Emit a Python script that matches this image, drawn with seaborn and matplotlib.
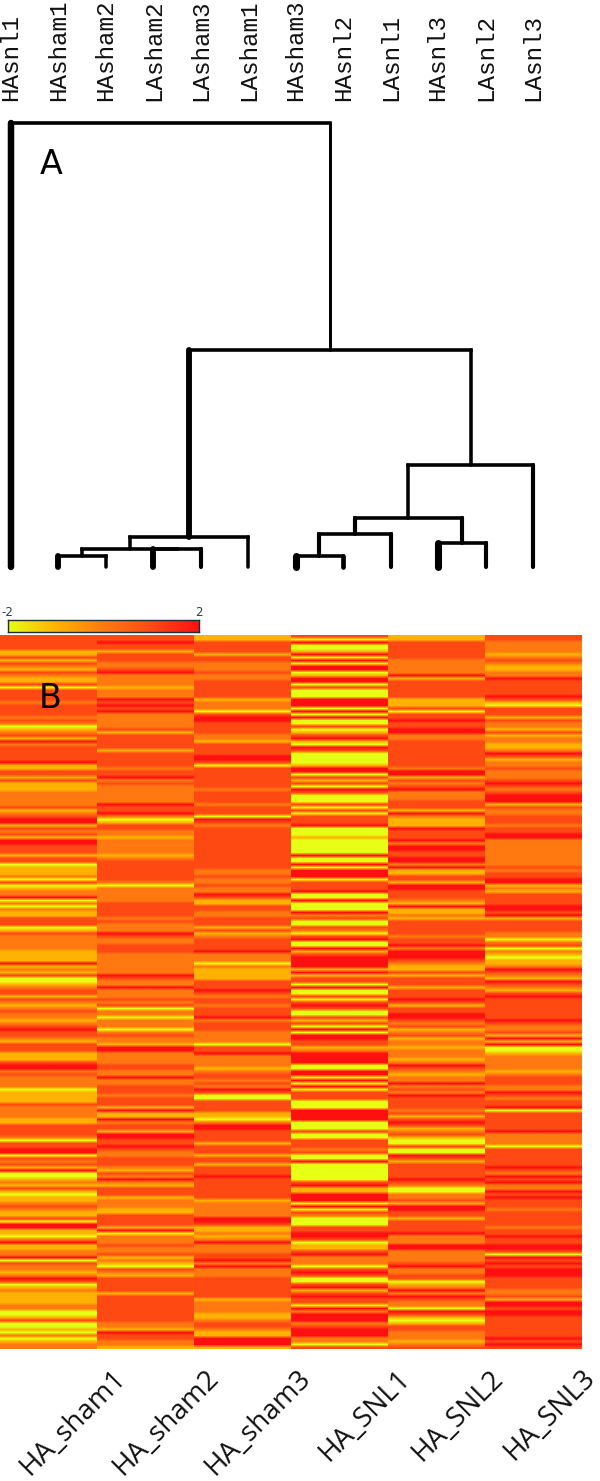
# dendrogram on top, expression heatmap underneath
import matplotlib
matplotlib.use('Agg')
import matplotlib.pyplot as plt
import numpy as np
import pandas as pd
import seaborn as sns
from matplotlib.colors import LinearSegmentedColormap
from matplotlib.transforms import ScaledTranslation

W, H = 600, 1481

# leaves of the tree, left to right
leaf_labels = ["HAsnl1", "HAsham1", "HAsham2", "LAsham2", "LAsham3", "LAsham1",
               "HAsham3", "HAsnl2", "LAsnl1", "HAsnl3", "LAsnl2", "LAsnl3"]
leaf_widths = [5.5, 5, 3, 5, 3.5, 3, 6, 4, 3.5, 6, 3.5, 3.5]

# merges: left child, right child, height (new nodes are numbered from 12)
merge_left = [1, 3, 12, 14, 6, 16, 9, 17, 19, 15, 0]
merge_right = [2, 4, 13, 5, 7, 8, 10, 18, 11, 20, 21]
merge_height = [11, 18, 18, 30, 11, 33, 24, 49, 102, 217, 444]
# stem widths of the merged nodes
stem_left = [5, 5, 3, 3, 6, 3.5, 6, 3.5, 3, 5, 5.5]
stem_right = [3, 3.5, 3, 3, 4, 3.5, 3.5, 3.5, 3.5, 3, 2.5]

columns = ["HA_sham1", "HA_sham2", "HA_sham3", "HA_SNL1", "HA_SNL2", "HA_SNL3"]
# the bottom labels drift a little left of the column grid
label_shift = [63, 59, 54, 57, 53, 48]

# heatmap rows, 0 = yellow ... 4 = red
ha_sham1 = [3,3,3,3,3,1,1,3,1,3,2,1,3,2,1,1,3,0,3,3,3,3,2,3,3,3,3,2,3,2,
            0,1,2,3,1,4,2,3,3,3,3,3,4,1,1,3,3,1,3,1,1,1,2,2,2,2,2,3,1,2,
            3,4,4,1,3,2,3,1,4,4,3,3,3,1,3,3,0,1,1,1,2,0,3,0,1,2,2,4,0,2,
            0,2,1,1,3,3,3,0,1,3,2,2,2,2,2,1,1,1,1,4,1,2,1,3,0,0,1,2,3,3,
            1,3,2,1,2,3,2,2,1,2,3,4,3,3,2,1,3,3,3,1,1,1,3,4,4,2,3,2,2,2,
            2,0,1,1,1,1,3,2,2,2,2,1,1,3,3,3,3,2,0,3,3,4,4,0,3,2,3,1,4,0,
            0,1,2,1,3,1,0,1,1,2,3,2,1,1,3,0,4,4,1,1,0,2,4,1,1,2,2,4,0,3,
            2,2,1,2,4,3,0,1,2,1,1,1,1,2,2,0,0,1,3,0,0,1,0,2,0,1,2,2]
ha_sham2 = [3,3,4,3,3,1,3,3,3,2,2,3,4,2,2,2,2,1,2,2,2,4,3,4,3,4,2,2,2,2,
            2,3,1,3,3,3,3,3,1,3,3,3,3,3,2,3,3,4,2,3,2,2,2,2,2,2,4,3,3,4,
            2,0,1,3,3,2,2,1,2,2,2,2,2,1,2,3,3,3,3,3,3,3,2,0,2,2,2,2,2,3,
            3,3,3,3,2,3,2,2,2,4,3,2,2,3,3,3,2,2,2,2,2,2,2,4,3,2,2,4,2,2,
            2,3,2,3,0,2,2,0,2,2,2,0,2,3,2,2,1,4,4,2,2,2,2,3,3,2,2,4,2,2,
            3,3,3,2,3,3,3,1,4,1,1,4,2,3,3,1,4,4,3,3,4,3,2,2,3,3,3,2,1,3,
            2,4,2,1,3,3,3,1,2,2,2,1,1,3,3,3,3,1,4,0,2,2,2,3,2,2,3,1,2,1,
            0,3,2,1,3,3,3,3,3,1,3,3,3,3,3,3,3,3,3,2,2,1,4,3,3,2,2,1]
ha_sham3 = [1,1,3,3,3,3,1,3,3,2,2,2,3,2,2,3,3,3,3,3,3,1,2,2,2,0,3,4,4,3,
            3,3,3,2,2,1,3,3,3,3,4,4,3,0,3,3,3,3,3,3,3,2,3,3,3,3,2,3,3,3,
            0,4,3,2,3,3,3,3,3,3,3,3,3,3,3,3,3,3,2,2,3,2,2,3,2,2,4,3,1,1,
            3,3,2,2,3,3,3,1,3,1,2,3,3,3,3,4,2,2,2,0,2,1,1,1,1,3,3,3,4,3,
            2,3,3,2,3,3,3,4,2,3,3,3,2,2,2,2,0,3,3,4,2,2,2,2,1,2,3,3,2,3,
            2,4,3,0,0,3,3,3,3,1,1,0,2,4,4,3,3,3,3,1,3,3,3,1,3,3,1,3,3,3,
            4,3,3,3,3,3,3,3,1,2,2,2,2,2,4,4,3,1,1,2,1,2,4,2,2,2,3,3,4,2,
            4,2,2,2,3,3,3,3,3,3,3,1,2,2,2,2,1,1,2,3,3,2,1,1,4,4,4,1]
ha_snl1 = [3,0,4,0,0,1,4,0,4,0,4,4,0,1,4,4,0,3,0,0,0,4,4,4,0,4,0,4,0,0,
           3,0,1,3,4,1,0,4,3,0,0,0,0,1,4,4,0,3,1,3,0,4,3,0,0,0,3,0,3,0,
           3,3,3,4,0,0,0,1,0,0,0,0,0,4,0,0,4,0,4,4,4,0,3,3,3,4,0,0,4,0,
           0,0,4,2,3,0,0,3,2,0,3,4,0,0,4,1,3,4,4,4,4,1,4,1,3,3,0,4,0,0,
           3,0,3,4,3,0,0,3,1,3,0,4,0,4,4,3,3,1,2,4,4,4,4,0,0,4,4,0,4,0,
           4,0,3,3,3,0,0,0,4,4,4,4,0,0,0,3,0,0,3,3,3,2,3,0,0,4,0,0,0,0,
           0,0,3,4,1,1,4,4,4,0,4,0,3,2,0,0,0,3,3,4,4,3,0,1,1,3,4,2,2,2,
           0,3,4,3,0,0,3,4,1,3,4,3,3,0,4,2,4,4,4,2,3,4,4,4,2,2,0,3]
ha_snl2 = [1,1,3,3,3,3,3,3,2,2,2,2,2,4,1,3,3,3,3,3,3,1,1,1,3,0,3,3,4,3,
           3,4,4,2,2,3,3,3,3,3,3,3,3,3,2,4,4,1,3,2,3,4,2,2,2,3,3,3,1,4,
           2,1,1,1,4,3,3,3,4,2,4,4,3,3,4,4,2,4,1,1,3,3,1,4,4,3,3,3,2,1,
           4,1,1,2,1,3,3,3,3,3,2,3,3,4,2,4,4,4,3,2,1,1,3,1,3,3,3,1,3,3,
           3,4,3,1,3,3,4,4,3,2,3,1,2,3,1,2,2,1,2,2,2,1,2,4,3,2,1,2,2,4,
           2,3,2,4,3,3,3,3,2,3,1,3,4,3,1,2,3,1,0,0,3,0,0,4,3,1,3,3,3,3,
           3,4,3,2,0,0,2,2,3,1,4,4,3,3,1,3,3,3,3,4,2,2,2,4,4,2,2,2,2,3,
           4,2,2,3,3,0,1,2,4,2,4,3,2,2,0,4,3,1,0,1,3,3,2,2,2,1,2,3]
ha_snl3 = [3,3,2,2,2,2,1,2,3,2,1,1,2,2,4,3,3,3,3,3,4,3,1,0,3,3,3,1,3,2,
           2,1,3,1,2,2,1,1,2,4,3,1,2,2,3,2,2,2,3,4,3,2,3,4,4,4,1,3,2,2,
           3,3,3,2,3,3,4,4,2,2,2,2,2,2,2,2,2,3,2,3,3,4,4,1,2,1,3,3,3,3,
           4,4,3,4,1,3,3,3,3,2,2,0,2,3,0,2,1,0,1,1,2,4,3,2,1,4,3,2,1,3,
           4,3,3,3,3,3,3,3,4,3,2,2,3,1,4,1,4,0,0,1,2,2,2,2,2,1,2,3,3,3,
           2,2,4,3,2,3,3,4,0,3,3,3,3,3,3,4,2,2,2,2,0,3,3,3,3,3,3,4,3,2,
           4,3,4,2,2,4,3,4,3,3,3,2,3,3,3,3,3,2,3,3,4,3,3,4,4,3,0,4,3,4,
           3,4,4,4,3,3,3,3,2,2,3,1,4,4,3,4,4,3,3,3,3,3,3,3,4,3,4,3]

heat_colors = ["#e6ff14", "#ffb400", "#ff7a10", "#ff4a14", "#ff1010"]


def px_axes(fig, left, top, width, height):
    return fig.add_axes([left / W, 1 - (top + height) / H, width / W, height / H])


sns.set_theme(style="white")
plt.rcParams['font.family'] = ['DejaVu Sans']

fig = plt.figure(figsize=(W / 100, H / 100), dpi=100)

# dendrogram
ax_tree = px_axes(fig, 11, 123, 522, 444)
ax_tree.set_xlim(0, 11)
ax_tree.set_ylim(0, 444)
ax_tree.patch.set_alpha(0)
sns.despine(ax=ax_tree, left=True, bottom=True)

node_x = list(range(len(leaf_labels)))
node_h = [0] * len(leaf_labels)
for a, b, h, lw_a, lw_b in zip(merge_left, merge_right, merge_height, stem_left, stem_right):
    for child, lw in ((a, lw_a), (b, lw_b)):
        # leaf stems have their own width
        if child < len(leaf_labels):
            lw = leaf_widths[child]
        ax_tree.plot([node_x[child], node_x[child]], [node_h[child], h], color="black",
                     lw=lw * 0.85, solid_capstyle="round", clip_on=False)
    ax_tree.plot([node_x[a], node_x[b]], [h, h], color="black", lw=3.6 * 0.72,
                 solid_capstyle="projecting", clip_on=False)
    node_x.append((node_x[a] + node_x[b]) / 2)
    node_h.append(h)

ax_tree.xaxis.tick_top()
ax_tree.set_yticks([])
ax_tree.set_xticks(range(len(leaf_labels)))
ax_tree.set_xticklabels(leaf_labels, rotation=90, family="Liberation Mono", fontsize=17.5,
                        color="#111111")
ax_tree.tick_params(axis="x", length=0, pad=16)

fig.text(51 / W, 1 - 164 / H, "A", fontsize=24, color="black", ha="center", va="center")

# colour scale
cmap = LinearSegmentedColormap.from_list("yor", heat_colors)
ax_bar = px_axes(fig, 7.5, 620, 191.5, 12)
sns.heatmap(np.linspace(-2, 2, 256).reshape(1, -1), ax=ax_bar, cmap=cmap, vmin=-2, vmax=2,
            cbar=False, xticklabels=False, yticklabels=False)
for spine in ax_bar.spines.values():
    spine.set_visible(True)
    spine.set_color("#1c3030")
    spine.set_linewidth(1)
ax_bar.xaxis.tick_top()
ax_bar.set_xticks([0, 256])
ax_bar.set_xticklabels(["-2", "2"], fontsize=8.5, color="#2c4040", rotation=0)
ax_bar.tick_params(axis="x", length=0, pad=1)

# heatmap
data = pd.DataFrame(dict(zip(columns, [ha_sham1, ha_sham2, ha_sham3, ha_snl1, ha_snl2, ha_snl3]))) - 2
ax_heat = px_axes(fig, 0, 635, 582, 714)
sns.heatmap(data, ax=ax_heat, cmap=cmap, vmin=-2, vmax=2, cbar=False, yticklabels=False)

# the source picture is soft along the rows, sharp between the columns
for i, name in enumerate(columns):
    ax_heat.imshow(data[[name]].to_numpy(), cmap=cmap, vmin=-2, vmax=2, aspect="auto",
                   interpolation="bilinear", extent=(i, i + 1, len(data), 0), zorder=2)
ax_heat.set_xlim(0, len(columns))
ax_heat.set_ylim(len(data), 0)

ax_heat.set_xticklabels(columns, rotation=45, ha="right", va="top", rotation_mode="anchor",
                        family="Open Sans", fontsize=20, color="#111111")
ax_heat.tick_params(axis="x", length=0, pad=11)
for label, px in zip(ax_heat.get_xticklabels(), label_shift):
    shift = ScaledTranslation(px / 100, 0, fig.dpi_scale_trans)
    label.set_transform(label.get_transform() + shift)

fig.text(50 / W, 1 - 698 / H, "B", fontsize=24, color="black", ha="center", va="center", zorder=5)

fig.savefig("out.png", dpi=100, facecolor="white")
